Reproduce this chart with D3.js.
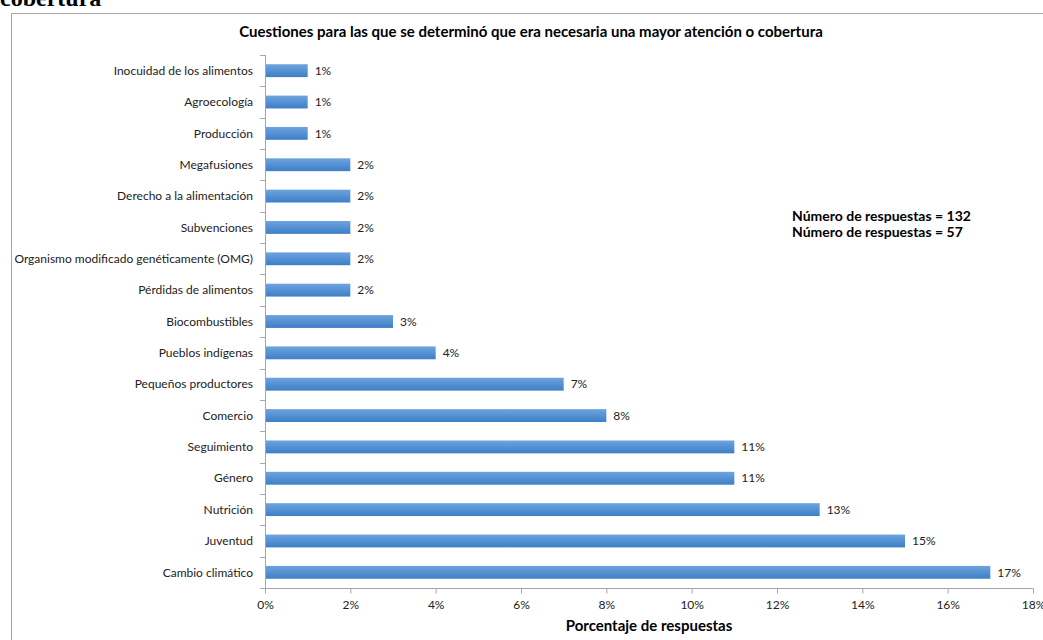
<!DOCTYPE html>
<html>
<head>
<meta charset="utf-8">
<script src="https://cdn.jsdelivr.net/npm/d3@7"></script>
<style>
  body { margin: 0; background: #fff; }
  svg { display: block; }
</style>
</head>
<body>
<svg id="chart" width="1043" height="640"></svg>
<script>
// categories, top to bottom
var categories = [
  'Inocuidad de los alimentos',
  'Agroecología',
  'Producción',
  'Megafusiones',
  'Derecho a la alimentación',
  'Subvenciones',
  'Organismo modificado genéticamente (OMG)',
  'Pérdidas de alimentos',
  'Biocombustibles',
  'Pueblos indígenas',
  'Pequeños productores',
  'Comercio',
  'Seguimiento',
  'Género',
  'Nutrición',
  'Juventud',
  'Cambio climático'
];
var values = [1, 1, 1, 2, 2, 2, 2, 2, 3, 4, 7, 8, 11, 11, 13, 15, 17];
var xTicks = [0, 2, 4, 6, 8, 10, 12, 14, 16, 18];
var notes = ['Número de respuestas = 132', 'Número de respuestas = 57'];

var font = 'Lato, "Open Sans", sans-serif';
var svg = d3.select('#chart');

// page heading, cut off at the top
svg.append('text')
  .attr('x', 0).attr('y', 6)
  .style('font-family', '"Liberation Serif", serif')
  .style('font-weight', 'bold')
  .style('font-size', '24px')
  .text('cobertura');

// chart frame
svg.append('rect')
  .attr('x', 11.5).attr('y', 13.5)
  .attr('width', 1040).attr('height', 640)
  .attr('fill', 'none')
  .attr('stroke', '#a6a6a6');

svg.append('text')
  .attr('x', 531).attr('y', 37)
  .attr('text-anchor', 'middle')
  .style('font-family', font)
  .style('font-weight', 'bold')
  .style('font-size', '15px')
  .text('Cuestiones para las que se determinó que era necesaria una mayor atención o cobertura');

var x = d3.scaleLinear().domain([0, 18]).range([265, 1033]);
var y = d3.scaleBand().domain(categories).range([55, 588]).paddingInner(0.59).paddingOuter(0.295);

var grad = svg.append('defs').append('linearGradient')
  .attr('id', 'barGrad').attr('x1', 0).attr('y1', 0).attr('x2', 0).attr('y2', 1);
grad.append('stop').attr('offset', '0%').attr('stop-color', '#6ea3de');
grad.append('stop').attr('offset', '100%').attr('stop-color', '#3d7fc7');

svg.selectAll('rect.bar')
  .data(values)
  .enter().append('rect')
  .attr('class', 'bar')
  .attr('x', x(0))
  .attr('y', function(d, i) { return y(categories[i]); })
  .attr('width', function(d) { return x(d) - x(0); })
  .attr('height', y.bandwidth())
  .attr('fill', 'url(#barGrad)');

svg.selectAll('text.val')
  .data(values)
  .enter().append('text')
  .attr('class', 'val')
  .attr('x', function(d) { return x(d) + 7; })
  .attr('y', function(d, i) { return y(categories[i]) + y.bandwidth() / 2; })
  .attr('dy', '0.35em')
  .style('font-family', font)
  .style('font-size', '12px')
  .style('fill', '#222')
  .text(function(d) { return d + '%'; });

// y axis: line, ticks between categories, labels
var step = y.step();
var yAxis = svg.append('g');
yAxis.append('line')
  .attr('x1', 265.5).attr('x2', 265.5).attr('y1', 55).attr('y2', 588)
  .attr('stroke', '#a6a6a6');
yAxis.selectAll('line.tk')
  .data(d3.range(categories.length + 1))
  .enter().append('line')
  .attr('class', 'tk')
  .attr('x1', 260).attr('x2', 265)
  .attr('y1', function(i) { return Math.round(55 + i * step) + 0.5; })
  .attr('y2', function(i) { return Math.round(55 + i * step) + 0.5; })
  .attr('stroke', '#a6a6a6');
yAxis.selectAll('text')
  .data(categories)
  .enter().append('text')
  .attr('x', 253)
  .attr('y', function(d) { return y(d) + y.bandwidth() / 2; })
  .attr('dy', '0.35em')
  .attr('text-anchor', 'end')
  .style('font-family', font)
  .style('font-size', '12px')
  .style('fill', '#222')
  .text(function(d) { return d; });

// x axis
var xAxis = svg.append('g')
  .attr('transform', 'translate(0,588.5)')
  .call(d3.axisBottom(x).tickValues(xTicks).tickSize(5).tickPadding(7)
    .tickFormat(function(d) { return d + '%'; }));
xAxis.selectAll('path, line').attr('stroke', '#a6a6a6');
xAxis.select('.domain').attr('d', 'M265,0H1033');
xAxis.selectAll('text')
  .style('font-family', font)
  .style('font-size', '12px')
  .style('fill', '#222');

svg.append('text')
  .attr('x', 649).attr('y', 631)
  .attr('text-anchor', 'middle')
  .style('font-family', font)
  .style('font-weight', 'bold')
  .style('font-size', '15px')
  .text('Porcentaje de respuestas');

svg.selectAll('text.note')
  .data(notes)
  .enter().append('text')
  .attr('class', 'note')
  .attr('x', 792)
  .attr('y', function(d, i) { return 221 + i * 16; })
  .style('font-family', font)
  .style('font-weight', 'bold')
  .style('font-size', '14px')
  .text(function(d) { return d; });
</script>
</body>
</html>
